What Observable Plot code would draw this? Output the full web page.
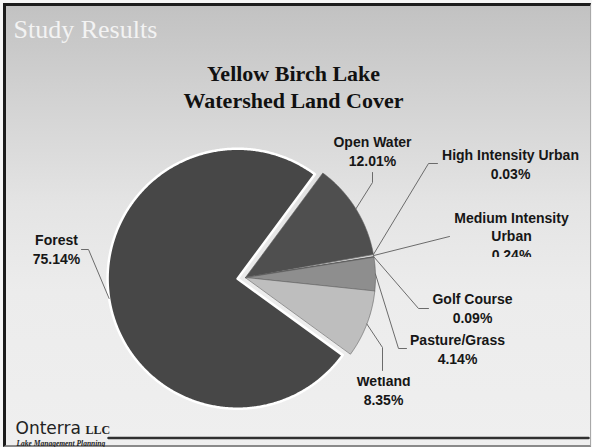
<!DOCTYPE html>
<html><head><meta charset="utf-8">
<script src="https://cdn.jsdelivr.net/npm/d3@7"></script>
<script src="https://cdn.jsdelivr.net/npm/@observablehq/plot@0.6"></script>
<style>
html,body{margin:0;padding:0;background:#f6f6f6;}
#wrap{position:relative;width:592px;height:447px;overflow:hidden;}
#panel{position:absolute;left:3px;top:3px;width:584px;height:439px;
  border-left:3px solid #1c1c1c;border-top:3px solid #1c1c1c;border-right:1px solid #a8a8a8;border-bottom:2px solid #8a8a8a;
  background:linear-gradient(to bottom,#c2c2c2 0%,#d3d3d3 22%,#e4e4e4 45%,#ececec 65%,#efefef 100%);}
#chart{position:absolute;left:0;top:0;}
</style></head>
<body><div id="wrap"><div id="panel"></div><div id="chart"></div></div>
<script>
// ---- data ----
const categories = ["Forest","Open Water","High Intensity Urban","Medium Intensity Urban","Golf Course","Pasture/Grass","Wetland"];
const percents   = [75.14, 12.01, 0.03, 0.24, 0.09, 4.14, 8.35];
const labelNames = ["Forest","Open Water","High Intensity Urban","Medium Intensity\nUrban","Golf Course","Pasture/Grass","Wetland"];
const sliceColors = ["#474747","#4f4f4f","#151515","#e2e2e2","#3a3a3a","#8e8e8e","#bebebe"];
const titleLines = ["Yellow Birch Lake","Watershed Land Cover"];
const headerText = "Study Results";
const brandName = "Onterra";
const brandSuffix = "LLC";
const brandTag = "Lake Management Planning";

// ---- layout ----
const W = 592, H = 447;
const cx = 245, cy = 277, R = 130, explode = 8;
const start = 126 * Math.PI / 180;
const labelLayout = {
  "Forest":                 {x: 56,  y: 263, leader: [[81,249],[88,249]]},
  "Open Water":             {x: 372, y: 165, leader: [[372,172],[372,182]]},
  "High Intensity Urban":   {x: 510, y: 178, leader: [[437,163],[428,163]]},
  "Medium Intensity Urban": {x: 511, y: 259, leader: [[449,236]], clip: [0, 0, 592, 256.5]},
  "Golf Course":            {x: 472, y: 322, leader: [[428,308],[418,308]]},
  "Pasture/Grass":          {x: 457, y: 363, leader: [[406,348],[398,348]]},
  "Wetland":                {x: 383, y: 404, leader: [[382,370],[382,347]], clip: [0, 376.5, 592, 70]}
};

const rows = categories.map((c, i) => ({name: c, value: percents[i], label: labelNames[i]}));
const arcs = d3.pie().sort(null).value(d => d.value).startAngle(start).endAngle(start + 2 * Math.PI)(rows);

const sliceFeatures = arcs.map(a => {
  const mid = (a.startAngle + a.endAngle) / 2;
  const off = a.data.name === "Forest" ? explode : 0;
  const ox = off * Math.sin(mid), oy = -off * Math.cos(mid);
  const n = Math.max(2, Math.ceil((a.endAngle - a.startAngle) / (Math.PI / 360)));
  const ring = [[cx + ox, cy + oy]];
  for (let k = 0; k <= n; k++) {
    const t = a.startAngle + (a.endAngle - a.startAngle) * k / n;
    ring.push([cx + ox + R * Math.sin(t), cy + oy - R * Math.cos(t)]);
  }
  ring.push([cx + ox, cy + oy]);
  const edge = [cx + ox + R * Math.sin(mid), cy + oy - R * Math.cos(mid)];
  return {type: "Feature", properties: {name: a.data.name, label: a.data.label, value: a.data.value, edge},
          geometry: {type: "Polygon", coordinates: [ring]}};
});

const leaderFeatures = sliceFeatures.map(f => ({
  type: "Feature", properties: {name: f.properties.name},
  geometry: {type: "LineString", coordinates: [...labelLayout[f.properties.name].leader, f.properties.edge]}
}));

const labelRows = sliceFeatures.map(f => ({
  name: f.properties.name,
  x: labelLayout[f.properties.name].x,
  y: labelLayout[f.properties.name].y,
  text: `${f.properties.label}\n${f.properties.value.toFixed(2)}%`
}));

const titleRows = titleLines.map((t, i) => ({text: t, x: 293, y: 80 + i * 27}));
const footerLine = {type: "Feature", geometry: {type: "LineString", coordinates: [[108, 437.5], [588, 437.5]]}};

const plot = Plot.plot({
  width: W, height: H, margin: 0,
  projection: d3.geoIdentity(),
  color: {domain: categories, range: sliceColors},
  style: {background: "transparent", overflow: "visible"},
  marks: [
    Plot.geo(sliceFeatures.filter(f => f.properties.name !== "Forest"), {fill: d => d.properties.name, stroke: "#5e5e5e", strokeWidth: 0.6}),
    Plot.geo(sliceFeatures.filter(f => f.properties.name === "Forest"), {fill: d => d.properties.name, stroke: "#ffffff", strokeWidth: 2.5}),
    Plot.geo(leaderFeatures, {stroke: "#6b6b6b", strokeWidth: 1, fill: "none"}),
    Plot.text(labelRows, {x: "x", y: "y", text: "text", lineAnchor: "bottom", lineHeight: 1.3, textAnchor: "middle",
      fontSize: 14, fontWeight: "bold", fontFamily: "Liberation Sans, Arial, sans-serif", fill: "#161616"}),
    Plot.text(titleRows, {x: "x", y: "y", text: "text", lineAnchor: "bottom", textAnchor: "middle",
      fontSize: 22, fontWeight: "bold", fontFamily: "Liberation Serif, Times New Roman, serif", fill: "#111"}),
    Plot.text([{text: headerText, x: 13, y: 37}], {x: "x", y: "y", text: "text", lineAnchor: "bottom", textAnchor: "start",
      fontSize: 26, fontFamily: "Liberation Serif, Times New Roman, serif", fill: "#f3f3f3"}),
    Plot.geo([footerLine], {stroke: "#303030", strokeWidth: 2.5, fill: "none"}),
    Plot.text([{text: brandName, x: 15, y: 433.5}], {x: "x", y: "y", text: "text", lineAnchor: "bottom", textAnchor: "start",
      fontSize: 17, fontFamily: "DejaVu Sans, sans-serif", fill: "#222"}),
    Plot.text([{text: brandSuffix, x: 85, y: 433.5}], {x: "x", y: "y", text: "text", lineAnchor: "bottom", textAnchor: "start",
      fontSize: 12, fontWeight: "bold", fontFamily: "Liberation Serif, serif", fill: "#222"}),
    Plot.text([{text: brandTag, x: 16, y: 445}], {x: "x", y: "y", text: "text", lineAnchor: "bottom", textAnchor: "start",
      fontSize: 7.5, fontWeight: "bold", fontStyle: "italic", fontFamily: "Liberation Serif, serif", fill: "#222"})
  ]
});
document.getElementById("chart").appendChild(plot);

// clip the two labels that are cut off in the original (wrap each in an untransformed group)
const svgNode = plot.tagName.toLowerCase() === "svg" ? plot : plot.querySelector("svg");
const svg = d3.select(svgNode);
const defs = svg.insert("defs", ":first-child");
svg.selectAll("text").nodes().forEach(node => {
  const txt = node.textContent || "";
  const row = labelRows.find(r => txt.replace(/\s+/g, "") === r.text.replace(/\s+/g, ""));
  const c = row && labelLayout[row.name].clip;
  if (!c) return;
  const id = "clip-" + row.name.replace(/\W+/g, "");
  defs.append("clipPath").attr("id", id).attr("clipPathUnits", "userSpaceOnUse").append("rect")
    .attr("x", c[0]).attr("y", c[1]).attr("width", c[2]).attr("height", c[3]);
  const g = document.createElementNS("http://www.w3.org/2000/svg", "g");
  node.parentNode.insertBefore(g, node);
  g.appendChild(node);
  g.setAttribute("clip-path", `url(#${id})`);
});
</script>
</body></html>
